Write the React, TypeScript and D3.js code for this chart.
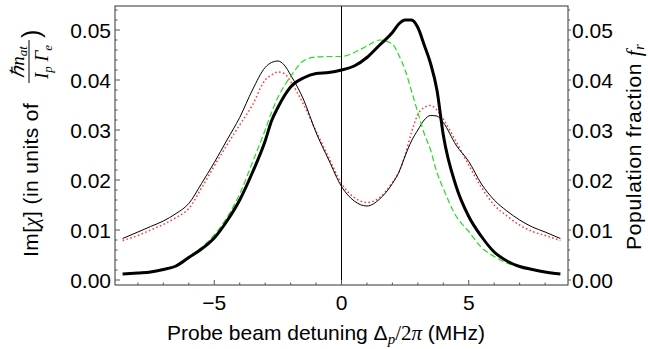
import React, { useEffect, useRef } from 'react';
import * as d3 from 'd3';

// detuning grid (MHz) shared by all curves
const detuning = [-8.6, -8, -7.5, -7, -6.5, -6, -5.5, -5, -4.5, -4, -3.5, -3, -2.75, -2.5, -2.25, -2,
  -1.5, -1, -0.5, 0, 0.5, 1, 1.5, 2, 2.25, 2.5, 2.75, 3, 3.25, 3.5, 3.75, 4, 4.5, 5, 5.5, 6, 6.5, 7, 7.5, 8, 8.6];

// population fraction (thick black)
const popFraction = [0.0012, 0.0014, 0.0016, 0.0021, 0.0028, 0.0045, 0.0062, 0.0084, 0.0118, 0.016, 0.0215, 0.0278,
  0.0318, 0.0345, 0.0368, 0.0386, 0.0404, 0.0413, 0.0415, 0.042, 0.0428, 0.0445, 0.047, 0.0495, 0.0512, 0.052,
  0.052, 0.0505, 0.047, 0.0433, 0.038, 0.029, 0.0188, 0.0127, 0.0087, 0.0056, 0.0038, 0.0027, 0.0021, 0.0016, 0.0012];

// population fraction, second case (green dashed)
const popFraction2 = [0.0012, 0.0014, 0.0017, 0.0022, 0.003, 0.0047, 0.0065, 0.009, 0.0125, 0.0172, 0.0235, 0.030,
  0.0335, 0.0365, 0.0388, 0.0407, 0.0438, 0.0446, 0.0447, 0.0447, 0.0455, 0.0468, 0.048, 0.0472, 0.045, 0.042,
  0.0378, 0.0335, 0.0293, 0.026, 0.0215, 0.0183, 0.0128, 0.0097, 0.0065, 0.0047, 0.0034, 0.0026, 0.002, 0.0016, 0.0012];

// Im[chi] (thin black)
const imChi = [0.0083, 0.0096, 0.0107, 0.0118, 0.0133, 0.0153, 0.0193, 0.0235, 0.028, 0.0325, 0.038, 0.0425,
  0.0435, 0.0438, 0.043, 0.041, 0.0362, 0.0295, 0.024, 0.0187, 0.0158, 0.0148, 0.0162, 0.0193, 0.0215, 0.0248,
  0.0278, 0.030, 0.032, 0.0329, 0.0328, 0.0315, 0.027, 0.0237, 0.0192, 0.016, 0.0138, 0.012, 0.0106, 0.0096, 0.0083];

// Im[chi], approximation (red dotted)
const imChiApprox = [0.0079, 0.0089, 0.0100, 0.0111, 0.0125, 0.0143, 0.0184, 0.0228, 0.027, 0.031, 0.035, 0.040,
  0.041, 0.0416, 0.0413, 0.0397, 0.0352, 0.0298, 0.0245, 0.0193, 0.0165, 0.0155, 0.0165, 0.0195, 0.0215, 0.025,
  0.0295, 0.0331, 0.0345, 0.0349, 0.034, 0.0322, 0.0277, 0.023, 0.0185, 0.015, 0.0128, 0.011, 0.0097, 0.0089, 0.0079];

const xTicks = [-5, 0, 5];
const yTicks = [0, 0.01, 0.02, 0.03, 0.04, 0.05];

function App() {
  const svgRef = useRef();

  useEffect(() => {
    const width = 648;
    const height = 349;
    const margin = { top: 6, right: 80, bottom: 64, left: 115 };
    const svg = d3.select(svgRef.current)
      .attr('width', width)
      .attr('height', height);
    svg.selectAll('*').remove();

    const x = d3.scaleLinear().domain([-8.9, 8.9]).range([margin.left, width - margin.right]);
    const y = d3.scaleLinear().domain([-0.001, 0.0548]).range([height - margin.bottom, margin.top]);
    const [x0, x1] = x.range();
    const [yb, yt] = y.range();
    const font = 'Liberation Sans, Arial, sans-serif';
    const mathFont = 'Liberation Serif, Times New Roman, serif';
    const fmt = d3.format('.2f');

    // curves
    const line = d3.line()
      .x((d, i) => x(detuning[i]))
      .y(d => y(d))
      .curve(d3.curveMonotoneX);

    svg.append('path').datum(imChiApprox).attr('d', line)
      .attr('fill', 'none').attr('stroke', '#ff3a3a').attr('stroke-width', 1.5)
      .attr('stroke-dasharray', '1.6,2.4');
    svg.append('path').datum(imChi).attr('d', line)
      .attr('fill', 'none').attr('stroke', '#000').attr('stroke-width', 1);
    svg.append('path').datum(popFraction2).attr('d', line)
      .attr('fill', 'none').attr('stroke', '#22dd22').attr('stroke-width', 1.2)
      .attr('stroke-dasharray', '6,3');
    svg.append('path').datum(popFraction).attr('d', line)
      .attr('fill', 'none').attr('stroke', '#000').attr('stroke-width', 3)
      .attr('stroke-linejoin', 'round');

    // vertical line at zero detuning
    svg.append('line')
      .attr('x1', x(0)).attr('x2', x(0)).attr('y1', yt).attr('y2', yb)
      .attr('stroke', '#000').attr('stroke-width', 1);

    // frame
    svg.append('rect')
      .attr('x', x0).attr('y', yt).attr('width', x1 - x0).attr('height', yb - yt)
      .attr('fill', 'none').attr('stroke', '#333').attr('stroke-width', 1);

    const ticks = svg.append('g').attr('stroke', '#555').attr('stroke-width', 1);
    // x ticks (inward from bottom)
    d3.range(-8, 9).forEach(v => {
      const major = xTicks.includes(v);
      ticks.append('line')
        .attr('x1', x(v)).attr('x2', x(v))
        .attr('y1', yb).attr('y2', yb - (major ? 5 : 2.5));
    });
    // y ticks: left inward, right outward
    d3.range(0, 28).map(i => i * 0.002).forEach(v => {
      const major = Math.abs(Math.round(v * 100) - v * 100) < 1e-6;
      ticks.append('line')
        .attr('x1', x0).attr('x2', x0 + (major ? 5 : 2.5)).attr('y1', y(v)).attr('y2', y(v));
      ticks.append('line')
        .attr('x1', x1).attr('x2', x1 + (major ? 3 : 2)).attr('y1', y(v)).attr('y2', y(v));
    });

    // tick labels
    svg.append('g').selectAll('text').data(xTicks).enter().append('text')
      .attr('x', d => x(d)).attr('y', 310)
      .attr('text-anchor', 'middle')
      .attr('font-family', font).attr('font-size', 21)
      .text(d => (d < 0 ? '\u2212' + Math.abs(d) : d));

    svg.append('g').selectAll('text').data(yTicks).enter().append('text')
      .attr('x', x0 - 4).attr('y', d => y(d)).attr('dy', '0.36em')
      .attr('text-anchor', 'end')
      .attr('font-family', font).attr('font-size', 21)
      .text(d => fmt(d));

    svg.append('g').selectAll('text').data(yTicks).enter().append('text')
      .attr('x', x1 + 4).attr('y', d => y(d)).attr('dy', '0.36em')
      .attr('text-anchor', 'start')
      .attr('font-family', font).attr('font-size', 21)
      .text(d => fmt(d));

    // x axis label
    const xl = svg.append('text')
      .attr('x', 326).attr('y', 340)
      .attr('text-anchor', 'middle')
      .attr('font-family', font).attr('font-size', 21);
    xl.append('tspan').text('Probe beam detuning \u0394');
    xl.append('tspan').attr('font-family', mathFont).attr('font-style', 'italic')
      .attr('font-size', 15).attr('dy', 4).text('p');
    xl.append('tspan').attr('font-family', mathFont).attr('dy', -4).text('/2');
    xl.append('tspan').attr('font-family', mathFont).attr('font-style', 'italic').text('\u03c0');
    xl.append('tspan').text(' (MHz)');

    // left label with fraction
    const ll = svg.append('g').attr('transform', 'translate(38,257) rotate(-90)');
    const lt = ll.append('text').attr('x', 0).attr('y', 0)
      .attr('font-family', font).attr('font-size', 21).attr('letter-spacing', 0.4);
    lt.append('tspan').text('Im[');
    lt.append('tspan').attr('font-family', mathFont).attr('font-style', 'italic').text('\u03c7');
    lt.append('tspan').text('] (in units of');
    ll.append('line')
      .attr('x1', 174).attr('x2', 217).attr('y1', -9).attr('y2', -9)
      .attr('stroke', '#000').attr('stroke-width', 1);
    const num = ll.append('text').attr('x', 195).attr('y', -14)
      .attr('text-anchor', 'middle')
      .attr('font-family', mathFont).attr('font-style', 'italic').attr('font-size', 19);
    num.append('tspan').text('\u210fn');
    num.append('tspan').attr('font-size', 13).attr('dy', 3).text('at');
    const den = ll.append('text').attr('x', 195).attr('y', 10)
      .attr('text-anchor', 'middle')
      .attr('font-family', mathFont).attr('font-style', 'italic').attr('font-size', 19);
    den.append('tspan').text('I');
    den.append('tspan').attr('font-size', 13).attr('dy', 4).text('p');
    den.append('tspan').attr('dy', -4).text(' \u0393');
    den.append('tspan').attr('font-size', 13).attr('dy', 4).text('e');
    ll.append('text').attr('x', 219).attr('y', 2)
      .attr('font-family', font).attr('font-size', 25).text(')');

    // right label
    const rl = svg.append('text')
      .attr('transform', 'translate(641,250) rotate(-90)')
      .attr('font-family', font).attr('font-size', 21).attr('letter-spacing', 0.7);
    rl.append('tspan').text('Population fraction ');
    rl.append('tspan').attr('font-family', mathFont).attr('font-style', 'italic').text('f');
    rl.append('tspan').attr('font-family', mathFont).attr('font-style', 'italic')
      .attr('font-size', 14).attr('dy', 3).text('r');
  }, []);

  return (
    <div style={{ position: 'absolute', left: 0, top: 0 }}>
      <svg ref={svgRef}></svg>
    </div>
  );
}

export default App;
